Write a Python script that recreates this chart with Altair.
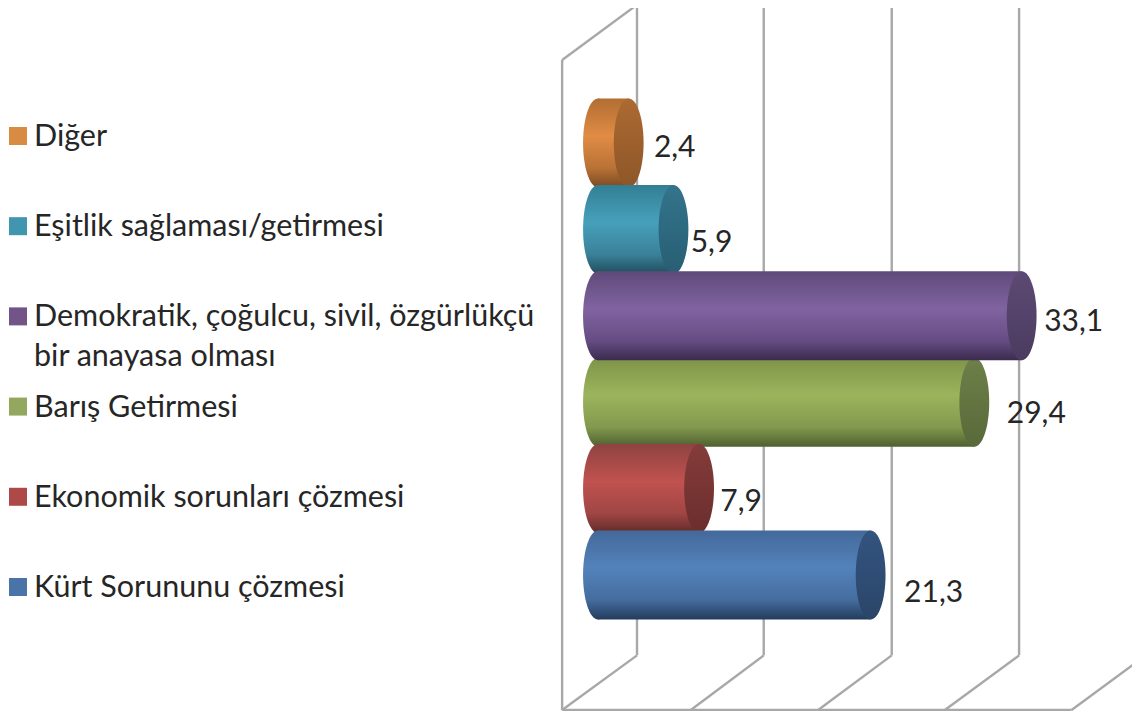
import altair as alt
import pandas as pd

# Series, in reference drawing order (index = position from the bottom)
categories = ["Kürt Sorununu çözmesi", "Ekonomik sorunları çözmesi", "Barış Getirmesi",
              "Demokratik, çoğulcu, sivil, özgürlükçü\nbir anayasa olması",
              "Eşitlik sağlaması/getirmesi", "Diğer"]
values = [21.3, 7.9, 29.4, 33.1, 5.9, 2.4]
labels = ["21,3", "7,9", "29,4", "33,1", "5,9", "2,4"]
positions = [0, 1, 2, 3, 4, 5]
legend_rows = [5, 4, 3, 2, 1, 0]
draw_order = [5, 4, 2, 3, 1, 0]

# colours: dark top, highlight, lower shade, dark bottom, cap, legend
top = ["#44699a", "#8f4341", "#7d9449", "#5f4a7a", "#337f95", "#b26d33"]
mid = ["#5382bb", "#c0524f", "#9cb45c", "#8063a0", "#46a0ba", "#e08c45"]
low = ["#456d9f", "#a04644", "#82994e", "#664c84", "#3a8199", "#b97236"]
bot = ["#243c5c", "#5f2a29", "#4f6030", "#3a2b4e", "#204c5c", "#7a4a22"]
cap_hi = ["#33547f", "#843c3a", "#6d8048", "#5c4a74", "#33748c", "#ac6a32"]
cap_lo = ["#2b4569", "#6a2e2d", "#59693a", "#4c3b60", "#285e73", "#8e5628"]
swatch = ["#4a74a8", "#ad4a48", "#94a75e", "#735489", "#3f96ae", "#d98a43"]
label_dx = [63, 42, 62, 52, 38, 46]
label_dy = [18, 13, 12, 6, 14, 5]

# frame of the 3-D chart box, in value / position units
back_wall = [3.05, 12.95, 22.95, 32.9, 42.8]
front_wall = [-2.8, 7.25, 17.2, 27.1, 37.0]
wall_top = 6.6
wall_foot = -0.93
floor_front = -1.5625
front_top = 5.96

FONT = "Lato"
LEGEND_SIZE = 30.5
LABEL_SIZE = 30
INK = "#262626"
GRID = "#a8a8a8"
ELLIPSE = "M-0.335,0 A0.335,1 0 1,1 0.335,0 A0.335,1 0 1,1 -0.335,0 Z"
CAP_SIZE = 89 ** 2
HALF = 0.515

x_scale = alt.Scale(domain=[-46.09, 41.72], nice=False, zero=False)
y_scale = alt.Scale(domain=[-1.574, 6.5625], nice=False, zero=False)
X = lambda f: alt.X(f, type="quantitative", scale=x_scale, axis=None)
Y = lambda f: alt.Y(f, type="quantitative", scale=y_scale, axis=None)


def rule(x0, y0, x1, y1):
    d = pd.DataFrame({"a": x0, "b": y0, "c": x1, "d": y1})
    return alt.Chart(d).mark_rule(color=GRID, strokeWidth=2.4, clip=True).encode(
        x=X("a"), y=Y("b"), x2="c", y2="d")


n = len(back_wall)
frame = [
    rule(back_wall[:4], [wall_top] * 4, back_wall[:4], [wall_foot] * 4),
    rule(back_wall, [wall_foot] * n, front_wall, [floor_front] * n),
    rule([front_wall[0]], [front_top], [front_wall[0]], [floor_front]),
    rule([front_wall[0]], [floor_front], [front_wall[-1]], [floor_front]),
    rule([front_wall[0]], [front_top], [back_wall[0]], [wall_top]),
]


def grad(stops):
    return alt.LinearGradient(gradient="linear", x1=0, x2=0, y1=0, y2=1,
                              stops=[alt.GradientStop(offset=o, color=c) for o, c in stops])


bars = []
for i in draw_order:
    row = pd.DataFrame({"zero": [0], "v": [values[i]], "p": [positions[i]],
                        "lo": [positions[i] - HALF], "hi": [positions[i] + HALF],
                        "label": [labels[i]]})
    body = grad([(0, top[i]), (0.42, mid[i]), (0.78, low[i]), (1, bot[i])])
    cap = grad([(0, cap_hi[i]), (1, cap_lo[i])])
    base = alt.Chart(row)
    bars += [
        base.mark_point(shape=ELLIPSE, size=CAP_SIZE, filled=True, fill=body, opacity=1,
                        strokeWidth=0).encode(x=X("zero"), y=Y("p")),
        base.mark_rect(fill=body).encode(x=X("zero"), x2="v", y=Y("lo"), y2="hi"),
        base.mark_point(shape=ELLIPSE, size=CAP_SIZE, filled=True, fill=cap, opacity=1,
                        strokeWidth=0).encode(x=X("v"), y=Y("p")),
    ]
    bars.append(base.mark_text(font=FONT, fontSize=LABEL_SIZE, color=INK, dx=label_dx[i],
                               dy=label_dy[i], align="center", baseline="middle").encode(
        x=X("v"), y=Y("p"), text="label:N"))

legend_df = pd.DataFrame({"row": legend_rows, "name": categories, "swatch": swatch})
row_y = alt.Y("row:Q", scale=alt.Scale(domain=[6.375, -1.419], nice=False, zero=False), axis=None)
legend_base = alt.Chart(legend_df)
legend = alt.layer(
    legend_base.mark_square(size=324, opacity=1).encode(
        x=alt.value(10), y=row_y, color=alt.Color("swatch:N", scale=None)),
    legend_base.mark_text(font=FONT, fontSize=LEGEND_SIZE, color=INK, align="left",
                          baseline="alphabetic", lineBreak="\n", lineHeight=40, dy=10).encode(
        x=alt.value(26), y=row_y, text="name:N"),
)

main = alt.layer(*frame, *bars)
chart = (
    alt.layer(main, legend)
    .resolve_scale(y="independent")
    .properties(width=1124, height=703, padding=0, autosize=alt.AutoSizeParams(type="none"))
    .configure_view(stroke=None)
)
chart.save("out.html", embed_options={"renderer": "svg", "actions": False})
